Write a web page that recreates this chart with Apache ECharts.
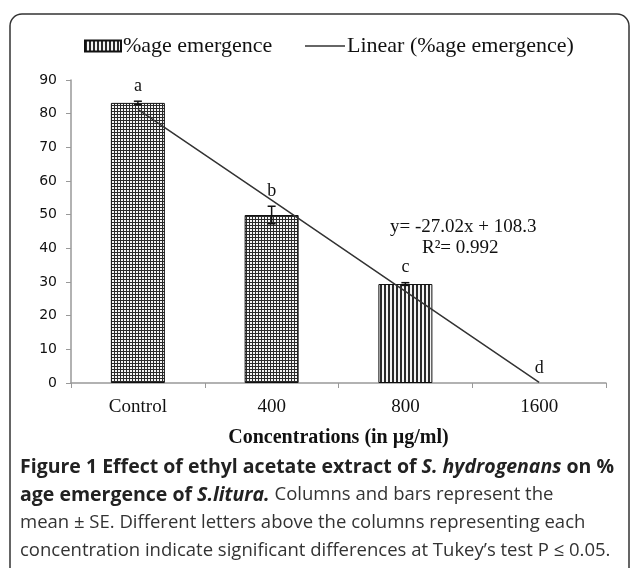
<!DOCTYPE html>
<html>
<head>
<meta charset="utf-8">
<script src="https://cdn.jsdelivr.net/npm/echarts@6/dist/echarts.min.js"></script>
<style>
  html, body { margin: 0; padding: 0; background: #fff; }
  #chart { width: 630px; height: 568px; }
</style>
</head>
<body>
<div id="chart"></div>
<script>
// data
const categories = ['Control', '400', '800', '1600'];
const emergence = [83.2, 49.9, 29.4, 0];
const stdErr = [0.5, 2.6, 0.4, 0];
const letters = ['a', 'b', 'c', 'd'];
const trendValues = [81.3, 54.3, 27.2, 0.2];
const yTicks = [0, 10, 20, 30, 40, 50, 60, 70, 80, 90];

const serif = '"Liberation Serif", "DejaVu Serif", serif';
const sans = '"Open Sans", "Noto Sans", sans-serif';

// hatch fills like the excel patterns
function makePattern(kind) {
  const c = document.createElement('canvas');
  const size = kind === 'grid' ? 3 : 4;
  c.width = size; c.height = size;
  const ctx = c.getContext('2d');
  ctx.fillStyle = '#f4f4f4';
  ctx.fillRect(0, 0, size, size);
  ctx.fillStyle = '#2a2a2a';
  if (kind === 'grid') {
    ctx.fillRect(0, 0, 1, size);
    ctx.fillRect(0, 0, size, 1);
  } else {
    ctx.fillRect(0, 0, 2, size);
  }
  return { image: c, repeat: 'repeat' };
}
const gridFill = makePattern('grid');
const stripeFill = makePattern('stripe');

const chart = echarts.init(document.getElementById('chart'));

const legendText = { fontFamily: serif, fontSize: 22, color: '#111', padding: [0, 0, 0, -3] };

chart.setOption({
  animation: false,
  backgroundColor: '#fff',
  legend: [
    {
      left: 79,
      top: 30,
      itemWidth: 36,
      itemHeight: 11,
      textStyle: legendText,
      data: [{ name: '%age emergence', icon: 'rect' }]
    },
    {
      left: 300,
      top: 30,
      itemWidth: 40,
      itemHeight: 1.5,
      textStyle: legendText,
      data: [{ name: 'Linear (%age emergence)', icon: 'rect' }]
    }
  ],
  grid: { left: 71, right: 24, top: 80, bottom: 185 },
  xAxis: {
    type: 'category',
    data: categories,
    name: 'Concentrations (in µg/ml)',
    nameLocation: 'middle',
    nameGap: 45,
    nameTextStyle: { fontFamily: serif, fontSize: 20, fontWeight: 'bold', color: '#111' },
    axisLine: { lineStyle: { color: '#999', width: 1.5 } },
    axisTick: { show: true, length: 5, lineStyle: { color: '#999' } },
    axisLabel: { fontFamily: serif, fontSize: 19, color: '#111', margin: 15 }
  },
  yAxis: {
    type: 'value',
    min: 0,
    max: 90,
    interval: 10,
    axisLine: { show: true, lineStyle: { color: '#999', width: 1.5 } },
    axisTick: { show: true, length: 5, lineStyle: { color: '#999' } },
    splitLine: { show: false },
    axisLabel: {
      fontFamily: '"DejaVu Sans", sans-serif', fontSize: 14, color: '#111', margin: 14,
      formatter: v => (yTicks.indexOf(v) >= 0 ? String(v) : '')
    }
  },
  series: [
    {
      name: '%age emergence',
      type: 'bar',
      barWidth: 54,
      itemStyle: { color: stripeFill, borderColor: '#111', borderWidth: 1 },
      data: emergence.map((v, i) => ({
        value: v,
        itemStyle: { color: i < 2 ? gridFill : stripeFill, borderWidth: v > 0 ? 1 : 0 }
      })),
      z: 2
    },
    {
      name: 'errors',
      type: 'custom',
      z: 4,
      data: emergence.map((v, i) => [i, v, stdErr[i], letters[i]]),
      renderItem: function (params, api) {
        const x = api.value(0);
        const v = api.value(1);
        const e = api.value(2);
        const top = api.coord([x, v + e]);
        const bot = api.coord([x, v - e]);
        const children = [];
        if (e > 0) {
          const cap = 4;
          const st = { stroke: '#111', lineWidth: 1.5 };
          children.push(
            { type: 'line', shape: { x1: top[0], y1: top[1], x2: bot[0], y2: bot[1] }, style: st },
            { type: 'line', shape: { x1: top[0] - cap, y1: top[1], x2: top[0] + cap, y2: top[1] }, style: st },
            { type: 'line', shape: { x1: bot[0] - cap, y1: bot[1], x2: bot[0] + cap, y2: bot[1] }, style: st }
          );
        }
        children.push({
          type: 'text',
          style: {
            text: api.value(3),
            x: top[0], y: top[1] - 15,
            align: 'center', verticalAlign: 'middle',
            font: '18px ' + serif, fill: '#111'
          }
        });
        return { type: 'group', children: children };
      }
    },
    {
      name: 'Linear (%age emergence)',
      type: 'line',
      data: trendValues,
      symbol: 'none',
      itemStyle: { color: '#333' },
      lineStyle: { color: '#333', width: 1.5 },
      z: 5
    }
  ],
  graphic: [
    {
      type: 'rect',
      shape: { x: 10, y: 14, width: 619, height: 600, r: 12 },
      style: { fill: 'none', stroke: '#333', lineWidth: 1.5 },
      z: 0
    },
    {
      type: 'text',
      x: 390, y: 227,
      style: { text: 'y= -27.02x + 108.3', font: '19px ' + serif, fill: '#111', verticalAlign: 'middle' }
    },
    {
      type: 'text',
      x: 422, y: 248,
      style: { text: 'R²= 0.992', font: '19px ' + serif, fill: '#111', verticalAlign: 'middle' }
    },
    {
      type: 'text',
      x: 20, y: 467,
      style: {
        text: '{b|Figure 1 Effect of ethyl acetate extract of }{bi|S. hydrogenans}{b| on %}',
        verticalAlign: 'middle',
        rich: {
          b: { font: 'bold 19.5px ' + sans, fill: '#222' },
          bi: { font: 'italic bold 19.5px ' + sans, fill: '#222' }
        }
      }
    },
    {
      type: 'text',
      x: 20, y: 495,
      style: {
        text: '{b|age emergence of }{bi|S.litura.}{r| Columns and bars represent the}',
        verticalAlign: 'middle',
        rich: {
          b: { font: 'bold 19.5px ' + sans, fill: '#222' },
          bi: { font: 'italic bold 19.5px ' + sans, fill: '#222' },
          r: { font: '18.5px ' + sans, fill: '#333' }
        }
      }
    },
    {
      type: 'text',
      x: 20, y: 523,
      style: {
        text: 'mean ± SE. Different letters above the columns representing each',
        verticalAlign: 'middle',
        font: '18.5px ' + sans, fill: '#333'
      }
    },
    {
      type: 'text',
      x: 20, y: 551,
      style: {
        text: 'concentration indicate significant differences at Tukey’s test P ≤ 0.05.',
        verticalAlign: 'middle',
        font: '18.5px ' + sans, fill: '#333'
      }
    }
  ]
});
</script>
</body>
</html>
